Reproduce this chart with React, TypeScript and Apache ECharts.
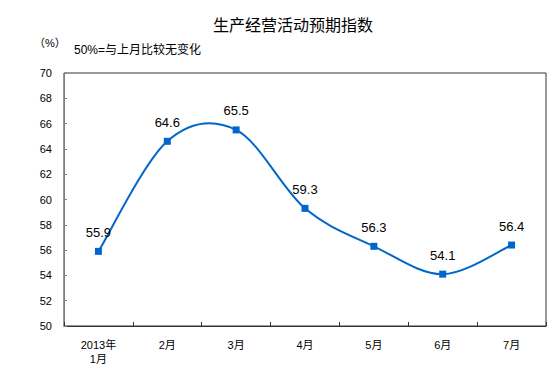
import React, { useEffect, useRef } from "react";
import * as echarts from "echarts";

const categories = ["2013年\n1月", "2月", "3月", "4月", "5月", "6月", "7月"];
const values = [55.9, 64.6, 65.5, 59.3, 56.3, 54.1, 56.4];
const yTicks = { min: 50, max: 70, interval: 2 };
const titleText = "生产经营活动预期指数";
const unitText = "（%）";
const noteText = "50%=与上月比较无变化";

const FONT = "Arial, 'Liberation Sans', 'Noto Sans CJK SC', sans-serif";

export default function App() {
  const ref = useRef<HTMLDivElement>(null);
  useEffect(() => {
    const chart = echarts.init(ref.current!, null, { renderer: "svg" });
    chart.setOption({
      animation: false,
      backgroundColor: "#ffffff",
      textStyle: { fontFamily: FONT },
      title: {
        text: titleText,
        left: 213,
        top: 17,
        padding: 0,
        textStyle: { fontSize: 16, fontWeight: "normal", color: "#000", fontFamily: FONT },
      },
      graphic: [
        {
          type: "text",
          left: 34,
          top: 37,
          style: { text: unitText, fill: "#000", font: `11px ${FONT}` },
        },
        {
          type: "text",
          left: 74,
          top: 44,
          style: { text: noteText, fill: "#000", font: `12px ${FONT}` },
        },
        {
          type: "rect",
          shape: { x: 64, y: 73, width: 482, height: 253 },
          style: { fill: "none", stroke: "#333", lineWidth: 1 },
          silent: true,
          z: 0,
        },
      ],
      grid: { left: 64, right: 7, top: 73, bottom: 56, containLabel: false },
      xAxis: {
        type: "category",
        data: categories,
        boundaryGap: true,
        axisLine: { show: true, lineStyle: { color: "#333", width: 1 } },
        axisTick: { show: true, inside: true, length: 4, lineStyle: { color: "#333" } },
        axisLabel: { fontSize: 11, color: "#000", margin: 12, lineHeight: 14, fontFamily: FONT },
        splitLine: { show: false },
      },
      yAxis: {
        type: "value",
        min: yTicks.min,
        max: yTicks.max,
        interval: yTicks.interval,
        axisLine: { show: true, lineStyle: { color: "#808080", width: 1 } },
        axisTick: { show: true, inside: true, length: 3, lineStyle: { color: "#808080" } },
        axisLabel: { fontSize: 11, color: "#000", margin: 12, fontFamily: FONT },
        splitLine: { show: false },
      },
      series: [
        {
          type: "custom",
          data: [0],
          silent: true,
          z: 2,
          renderItem: (params: any, api: any) => {
            const pts = values.map((v, i) => api.coord([i, v]));
            const n = pts.length;
            const k = 1 / 6;
            let d = `M${pts[0][0]},${pts[0][1]}`;
            for (let i = 0; i < n - 1; i++) {
              const p0 = pts[Math.max(i - 1, 0)];
              const p1 = pts[i];
              const p2 = pts[i + 1];
              const p3 = pts[Math.min(i + 2, n - 1)];
              const c1x = p1[0] + (p2[0] - p0[0]) * k;
              const c1y = p1[1] + (p2[1] - p0[1]) * k;
              const c2x = p2[0] - (p3[0] - p1[0]) * k;
              const c2y = p2[1] - (p3[1] - p1[1]) * k;
              d += ` C${c1x},${c1y} ${c2x},${c2y} ${p2[0]},${p2[1]}`;
            }
            return {
              type: "path",
              shape: { pathData: d },
              style: { fill: "none", stroke: "#0066CC", lineWidth: 2 },
            };
          },
        },
        {
          type: "line",
          data: values,
          z: 3,
          symbol: "rect",
          symbolSize: 7,
          lineStyle: { width: 0, opacity: 0 },
          itemStyle: { color: "#0066CC" },
          label: {
            show: true,
            position: "top",
            distance: 9,
            fontSize: 13,
            color: "#000",
            fontFamily: FONT,
          },
        },
      ],
    });
    return () => chart.dispose();
  }, []);
  return <div ref={ref} style={{ width: 553, height: 382, position: "absolute", left: 0, top: 0 }} />;
}
